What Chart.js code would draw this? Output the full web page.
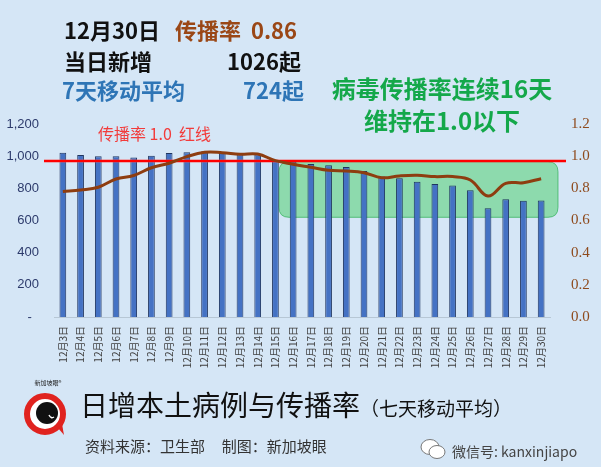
<!DOCTYPE html>
<html lang="zh">
<head>
<meta charset="UTF-8">
<title>日增本土病例与传播率</title>
<script src="https://cdn.jsdelivr.net/npm/chart.js"></script>
<style>
    html, body {
        margin: 0;
        padding: 0;
    }
    body {
        width: 601px;
        height: 467px;
        overflow: hidden;
        background-color: #d5e6f6;
        font-family: "Noto Sans CJK SC", "Noto Sans", sans-serif;
    }
    .wrap {
        position: relative;
        width: 601px;
        height: 467px;
    }
    canvas {
        position: absolute;
        left: 0;
        top: 0;
    }
    .t {
        position: absolute;
        line-height: 1;
        white-space: nowrap;
    }
    .head {
        font-size: 22px;
        font-weight: bold;
    }
    .black { color: #111; }
    .brown { color: #9a4716; }
    .blue { color: #2e75b6; }
    .green {
        color: #14a84a;
        font-size: 24px;
        font-weight: bold;
        width: 300px;
        text-align: center;
        left: 292px;
    }
    .red {
        color: #f23b3b;
        font-size: 16px;
    }
    .title {
        font-size: 28px;
        color: #111;
        font-family: "Noto Sans CJK SC", serif;
    }
    .title small {
        font-size: 19px;
    }
    .source {
        font-size: 15px;
        color: #333;
    }
    .wx {
        font-size: 14px;
        color: #444;
    }
</style>
</head>
<body>
<div class="wrap">
    <canvas id="chart" width="601" height="467"></canvas>

    <div class="t head black" style="left:64px; top:18px;">12月30日</div>
    <div class="t head brown" style="left:175px; top:18px;">传播率&nbsp;&nbsp;0.86</div>
    <div class="t head black" style="left:64px; top:49px;">当日新增</div>
    <div class="t head black" style="right:300px; top:49px;">1026起</div>
    <div class="t head blue" style="left:62px; top:78px;">7天移动平均</div>
    <div class="t head blue" style="right:297px; top:78px;">724起</div>

    <div class="t green" style="top:76px;">病毒传播率连续16天</div>
    <div class="t green" style="top:108px;">维持在1.0以下</div>

    <div class="t red" style="left:98px; top:125px;">传播率 1.0&nbsp;&nbsp;红线</div>

    <svg class="t" style="left:18px; top:378px;" width="60" height="62" viewBox="0 0 60 62">
        <text x="30" y="7" font-size="6" text-anchor="middle" fill="#222" font-family="Noto Sans CJK SC">新加坡眼®</text>
        <path d="M40 50 L46 57 L44 46 Z" fill="#e0231f"/>
        <circle cx="27" cy="36" r="18" fill="#ffffff" stroke="#e0231f" stroke-width="6"/>
        <circle cx="29" cy="35" r="11" fill="#111"/>
        <path d="M31 37 q2 4 5 2" stroke="#fff" stroke-width="1.5" fill="none"/>
    </svg>

    <div class="t title" style="left:80px; top:390px;">日增本土病例与传播率<small>（七天移动平均）</small></div>
    <div class="t source" style="left:85px; top:438px;">资料来源：卫生部&nbsp;&nbsp;&nbsp;&nbsp;&nbsp;制图：新加坡眼</div>

    <svg class="t" style="left:419px; top:438px;" width="28" height="22" viewBox="0 0 28 22">
        <ellipse cx="11" cy="9" rx="9" ry="7.5" fill="#fff" stroke="#777" stroke-width="1"/>
        <ellipse cx="18" cy="14" rx="8" ry="6.5" fill="#fff" stroke="#777" stroke-width="1"/>
    </svg>
    <div class="t wx" style="left:452px; top:444px;">微信号: kanxinjiapo</div>
</div>

<script>
    // 日期（横轴）
    const labels = [
        '12月3日', '12月4日', '12月5日', '12月6日', '12月7日', '12月8日', '12月9日',
        '12月10日', '12月11日', '12月12日', '12月13日', '12月14日', '12月15日', '12月16日',
        '12月17日', '12月18日', '12月19日', '12月20日', '12月21日', '12月22日', '12月23日',
        '12月24日', '12月25日', '12月26日', '12月27日', '12月28日', '12月29日', '12月30日'
    ];

    // 七天移动平均病例（左轴）
    const avgCases = [
        1022, 1007, 999, 999, 991, 1003, 1020,
        1024, 1030, 1024, 1012, 1012, 974, 966,
        951, 943, 933, 908, 873, 862, 841,
        827, 817, 788, 676, 732, 723, 724
    ];

    // 传播率（右轴）
    const spreadRate = [
        0.78, 0.79, 0.807, 0.858, 0.88, 0.928, 0.956,
        0.997, 1.024, 1.022, 1.012, 1.013, 0.972, 0.95,
        0.931, 0.912, 0.908, 0.897, 0.866, 0.877, 0.881,
        0.873, 0.873, 0.852, 0.752, 0.831, 0.835, 0.86
    ];

    // 刻度
    const caseTicks = [0, 200, 400, 600, 800, 1000, 1200];
    const rateTicks = [0, 0.2, 0.4, 0.6, 0.8, 1.0, 1.2];

    // 红线 与 绿色区域（按轴数值）
    const redLineRate = 0.97;
    const greenBox = { fromIndex: 12.2, toIndex: 27.95, low: 0.62, high: 0.965 };

    function roundRect(ctx, x, y, w, h, r) {
        ctx.beginPath();
        ctx.moveTo(x + r, y);
        ctx.lineTo(x + w - r, y);
        ctx.quadraticCurveTo(x + w, y, x + w, y + r);
        ctx.lineTo(x + w, y + h - r);
        ctx.quadraticCurveTo(x + w, y + h, x + w - r, y + h);
        ctx.lineTo(x + r, y + h);
        ctx.quadraticCurveTo(x, y + h, x, y + h - r);
        ctx.lineTo(x, y + r);
        ctx.quadraticCurveTo(x, y, x + r, y);
        ctx.closePath();
    }

    const overlays = {
        id: 'overlays',
        beforeDatasetsDraw(chart) {
            const ctx = chart.ctx;
            const xs = chart.scales.x;
            const yr = chart.scales.yRate;
            const x0 = xs.getPixelForValue(greenBox.fromIndex);
            const x1 = xs.getPixelForValue(greenBox.toIndex);
            const y0 = yr.getPixelForValue(greenBox.high);
            const y1 = yr.getPixelForValue(greenBox.low);
            ctx.save();
            roundRect(ctx, x0, y0, x1 - x0, y1 - y0, 10);
            ctx.fillStyle = 'rgba(70, 205, 100, 0.5)';
            ctx.fill();
            ctx.strokeStyle = 'rgba(60, 180, 100, 0.8)';
            ctx.lineWidth = 1;
            ctx.stroke();
            ctx.restore();
        },
        beforeDatasetDraw(chart, args) {
            if (args.index !== 1) return;
            const ctx = chart.ctx;
            const y = chart.scales.yRate.getPixelForValue(redLineRate);
            const area = chart.chartArea;
            ctx.save();
            ctx.strokeStyle = 'rgba(255, 60, 60, 0.35)';
            ctx.lineWidth = 4;
            ctx.beginPath();
            ctx.moveTo(area.left - 10, y);
            ctx.lineTo(area.right + 16, y);
            ctx.stroke();
            ctx.strokeStyle = '#ff0000';
            ctx.lineWidth = 2;
            ctx.stroke();
            ctx.restore();
        }
    };

    const ctx = document.getElementById('chart').getContext('2d');
    const chart = new Chart(ctx, {
        data: {
            labels: labels,
            datasets: [{
                type: 'bar',
                data: avgCases,
                yAxisID: 'yCases',
                backgroundColor: '#4472c4',
                borderColor: '#1f3560',
                borderWidth: 1,
                barPercentage: 0.38,
                categoryPercentage: 1.0,
                order: 2
            }, {
                type: 'line',
                data: spreadRate,
                yAxisID: 'yRate',
                borderColor: '#8e3d10',
                borderWidth: 3,
                pointRadius: 0,
                tension: 0.4,
                fill: false,
                order: 1
            }]
        },
        options: {
            responsive: false,
            animation: false,
            devicePixelRatio: 1,
            layout: {
                padding: { top: 124, left: 0, right: 0, bottom: 0 }
            },
            plugins: {
                legend: { display: false },
                tooltip: { enabled: false }
            },
            scales: {
                x: {
                    grid: { display: false, drawTicks: false },
                    border: { display: true, color: 'rgba(170, 185, 200, 0.7)' },
                    ticks: {
                        minRotation: 90,
                        maxRotation: 90,
                        autoSkip: false,
                        padding: 9,
                        color: '#404040',
                        font: { family: '"Noto Sans CJK SC"', size: 10 }
                    },
                    afterFit(scale) { scale.height = 150; }
                },
                yCases: {
                    position: 'left',
                    min: 0,
                    max: 1200,
                    afterBuildTicks(scale) {
                        scale.ticks = caseTicks.map(v => ({ value: v }));
                    },
                    grid: { display: false, drawTicks: false },
                    border: { display: false },
                    ticks: {
                        padding: 15,
                        color: '#2c3a6b',
                        font: { family: '"Liberation Sans"', size: 13 },
                        callback: v => v === 0 ? '-  ' : v.toLocaleString('en-US')
                    },
                    afterFit(scale) { scale.width = 54; }
                },
                yRate: {
                    position: 'right',
                    min: 0,
                    max: 1.2,
                    afterBuildTicks(scale) {
                        scale.ticks = rateTicks.map(v => ({ value: v }));
                    },
                    grid: { display: false, drawTicks: false },
                    border: { display: false },
                    ticks: {
                        padding: 21,
                        color: '#8e4a1c',
                        font: { family: '"Liberation Serif"', size: 15 },
                        callback: v => Number(v).toFixed(1)
                    },
                    afterFit(scale) { scale.width = 51; }
                }
            }
        },
        plugins: [overlays]
    });
</script>
</body>
</html>
